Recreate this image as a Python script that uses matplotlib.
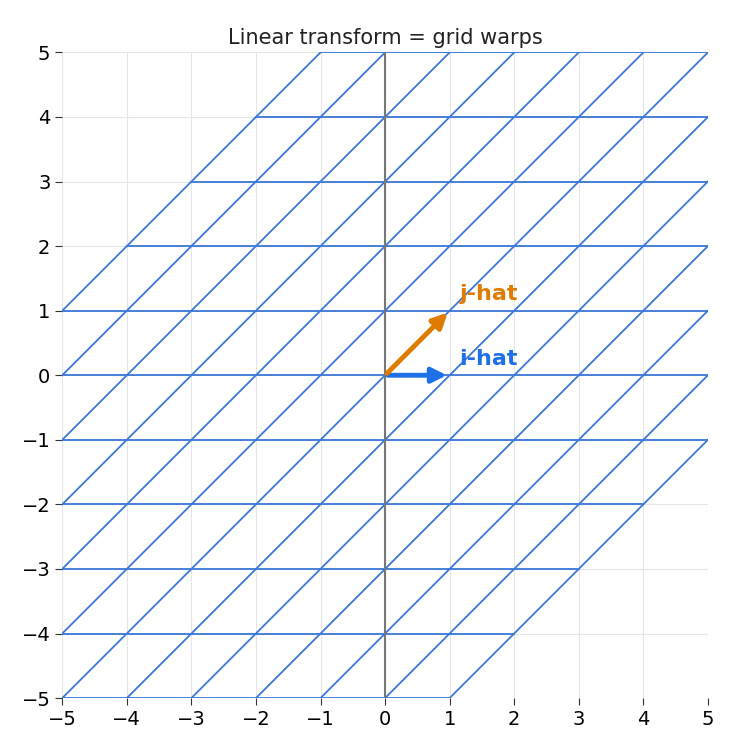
import numpy as np
import matplotlib
matplotlib.use("Agg")
import matplotlib.pyplot as plt

M = np.array([[1, 1], [0, 1]])
grid_vals = np.arange(-6, 7)
i_hat = M @ np.array([1, 0])
j_hat = M @ np.array([0, 1])
ticks = list(range(-5, 6))

fig, ax = plt.subplots(figsize=(7.30, 7.49), dpi=100)
ax.grid(True, color="#e6e6e6", lw=0.8)
ax.set_axisbelow(True)
t = np.array([-6, 6])
for k in grid_vals:
    p = M @ np.vstack([t, np.full(2, k)])
    ax.plot(p[0], p[1], color="#3b78d8", lw=1.3, zorder=2)
    p = M @ np.vstack([np.full(2, k), t])
    ax.plot(p[0], p[1], color="#3b78d8", lw=1.3, zorder=2)
ax.axvline(0, color="#777777", lw=1.5, zorder=3)
ax.annotate("", xy=i_hat, xytext=(0, 0),
            arrowprops=dict(arrowstyle="-|>", color="#1f6fe8", lw=3.5, mutation_scale=22), zorder=5)
ax.annotate("", xy=j_hat, xytext=(0, 0),
            arrowprops=dict(arrowstyle="-|>", color="#e07b00", lw=3.5, mutation_scale=22), zorder=5)
ax.text(i_hat[0] + 0.15, i_hat[1] + 0.1, "i-hat", color="#1f6fe8", fontsize=16, fontweight="bold", va="bottom")
ax.text(j_hat[0] + 0.15, j_hat[1] + 0.1, "j-hat", color="#e07b00", fontsize=16, fontweight="bold", va="bottom")
ax.set_xlim(-5, 5)
ax.set_ylim(-5, 5)
ax.set_xticks(ticks)
ax.set_yticks(ticks)
ax.set_aspect("equal")
ax.tick_params(labelsize=14, color="#333333", length=5)
for s in ax.spines.values():
    s.set_visible(False)
ax.set_title("Linear transform = grid warps", fontsize=15, color="#222222")
fig.subplots_adjust(left=0.085, right=0.97, bottom=0.068, top=0.93)
fig.savefig("out.png")
